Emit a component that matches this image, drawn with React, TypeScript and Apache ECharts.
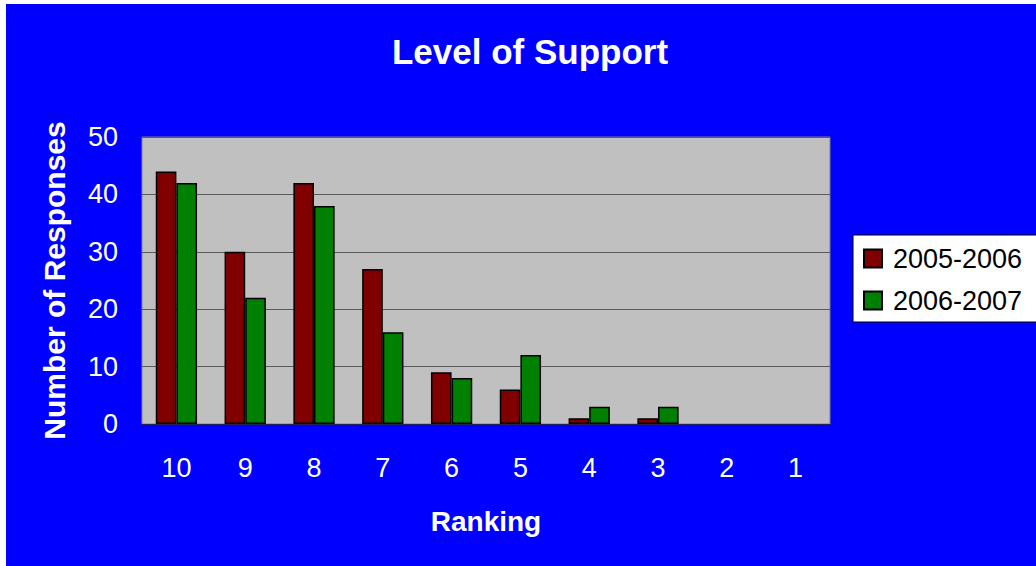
import React, { useEffect, useRef } from "react";
import * as echarts from "echarts";

const categories = ["10", "9", "8", "7", "6", "5", "4", "3", "2", "1"];
const series2005 = [44, 30, 42, 27, 9, 6, 1, 1, 0, 0];
const series2006 = [42, 22, 38, 16, 8, 12, 3, 3, 0, 0];
const seriesNames = ["2005-2006", "2006-2007"];

const FONT = "Liberation Sans, Arial, sans-serif";

const toData = (arr: number[]) =>
  arr.map((v) => (v === 0 ? { value: v, itemStyle: { borderWidth: 0 } } : v));

export default function App() {
  const ref = useRef<HTMLDivElement>(null);
  useEffect(() => {
    if (!ref.current) return;
    const chart = echarts.init(ref.current, null, { renderer: "svg" });
    chart.setOption({
      animation: false,
      backgroundColor: "#ffffff",
      graphic: [
        {
          type: "rect",
          z: -10,
          silent: true,
          shape: { x: 6, y: 4, width: 1030, height: 562 },
          style: { fill: "#0000ff" },
        },
      ],
      title: {
        text: "Level of Support",
        left: 525,
        top: 29,
        textAlign: "center",
        textStyle: { color: "#ffffff", fontSize: 35, fontWeight: "bold", fontFamily: FONT },
      },
      legend: {
        orient: "vertical",
        left: 853,
        top: 235,
        width: 183,
        backgroundColor: "#ffffff",
        borderColor: "#000000",
        borderWidth: 1,
        borderRadius: 0,
        padding: [10, 20, 8, 10],
        itemWidth: 18,
        itemHeight: 18,
        itemGap: 15,
        icon: "rect",
        textStyle: { color: "#000000", fontSize: 27, fontFamily: FONT, padding: [0, 0, 0, 6] },
        data: seriesNames,
      },
      grid: {
        left: 142,
        top: 137,
        right: 206,
        bottom: 142,
        show: true,
        backgroundColor: "#c0c0c0",
        borderColor: "#808080",
        borderWidth: 1,
      },
      xAxis: {
        type: "category",
        data: categories,
        name: "Ranking",
        nameLocation: "middle",
        nameGap: 83,
        nameTextStyle: { color: "#ffffff", fontSize: 28, fontWeight: "bold", fontFamily: FONT },
        axisLine: { show: true, lineStyle: { color: "#202060", width: 1 } },
        axisTick: { show: false },
        axisLabel: { color: "#ffffff", fontSize: 27, fontFamily: FONT, margin: 30 },
      },
      yAxis: {
        type: "value",
        min: 0,
        max: 50,
        interval: 10,
        name: "Number of Responses",
        nameLocation: "middle",
        nameGap: 73,
        nameTextStyle: { color: "#ffffff", fontSize: 30, fontWeight: "bold", fontFamily: FONT },
        axisLine: { show: false },
        axisTick: { show: false },
        axisLabel: { color: "#ffffff", fontSize: 27, fontFamily: FONT, margin: 24 },
        splitLine: { show: true, lineStyle: { color: "#5a5a5a", width: 1 } },
      },
      series: [
        {
          name: seriesNames[0],
          type: "bar",
          data: toData(series2005),
          barWidth: "30%",
          barGap: "0%",
          itemStyle: { color: "#800000", borderColor: "#000000", borderWidth: 1.5 },
        },
        {
          name: seriesNames[1],
          type: "bar",
          data: toData(series2006),
          barWidth: "30%",
          barGap: "0%",
          itemStyle: { color: "#008000", borderColor: "#000000", borderWidth: 1.5 },
        },
      ],
    });
    return () => chart.dispose();
  }, []);
  return (
    <div
      ref={ref}
      style={{ position: "absolute", left: 0, top: 0, width: 1036, height: 566 }}
    />
  );
}
